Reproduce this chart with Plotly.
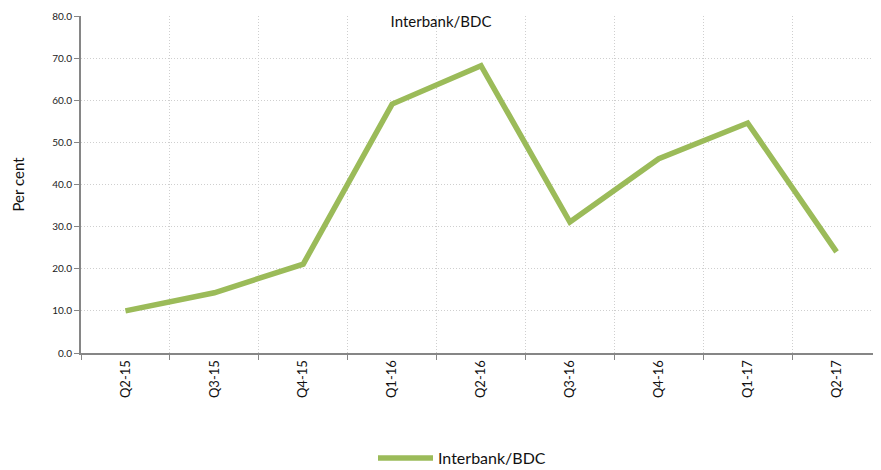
import plotly.graph_objects as go

quarters = ["Q2-15", "Q3-15", "Q4-15", "Q1-16", "Q2-16", "Q3-16", "Q4-16", "Q1-17", "Q2-17"]
interbank_bdc = [10.0, 14.3, 21.1, 59.1, 68.2, 31.1, 46.1, 54.6, 24.0]

green = "#9BBB59"
axis_col = "#868686"
grid_col = "#cfcfcf"
font_fam = "Lato, Open Sans, sans-serif"

# page body adds an 8px offset, so the figure layout is shifted to compensate
off = 8
fig_w, fig_h = 881, 470
plot_l, plot_t, plot_w, plot_h = 81 - off, 16 - off, 800, 337

fig = go.Figure()
fig.add_trace(go.Scatter(
    x=quarters, y=interbank_bdc,
    mode="lines",
    line=dict(color=green, width=5.5),
    name="Interbank/BDC"))

fig.update_layout(
    width=fig_w, height=fig_h,
    autosize=False,
    margin=dict(l=plot_l, r=fig_w - plot_l - plot_w, t=plot_t,
                b=fig_h - plot_t - plot_h, autoexpand=False),
    paper_bgcolor="white", plot_bgcolor="white",
    font=dict(family=font_fam, color="#222222"),
    title=dict(text="Interbank/BDC", x=(441 - off) / fig_w, xref="container", xanchor="center",
               y=1 - (22 - off) / fig_h, yref="container", yanchor="middle",
               font=dict(size=15, family=font_fam, color="#111111")),
    showlegend=True,
    legend=dict(orientation="h", x=(462 - off - plot_l) / plot_w, xanchor="center",
                y=(plot_t + plot_h - (458 - off)) / plot_h, yanchor="middle",
                itemwidth=55,
                font=dict(size=16, family=font_fam, color="#111111")),
)

fig.update_xaxes(
    type="category", tickson="boundaries", ticks="outside", ticklen=5,
    tickcolor=axis_col, showline=True, linecolor=axis_col, linewidth=2,
    showgrid=True, gridcolor=grid_col, griddash="1px,2px", gridwidth=1,
    tickangle=-90, tickfont=dict(size=13, family=font_fam, color="#111111"),
    range=[-0.5, 8.5])

fig.update_yaxes(
    range=[0, 80], dtick=10, tickformat=".1f",
    ticks="outside", ticklen=5, tickcolor=axis_col,
    showline=True, linecolor=axis_col, linewidth=2,
    showgrid=True, gridcolor=grid_col, griddash="1px,2px", gridwidth=1,
    zeroline=False,
    tickfont=dict(size=10, family=font_fam, color="#222222"),
    title=dict(text="Per cent", standoff=24,
               font=dict(size=15, family=font_fam, color="#111111")))

fig.write_html("out.html")
